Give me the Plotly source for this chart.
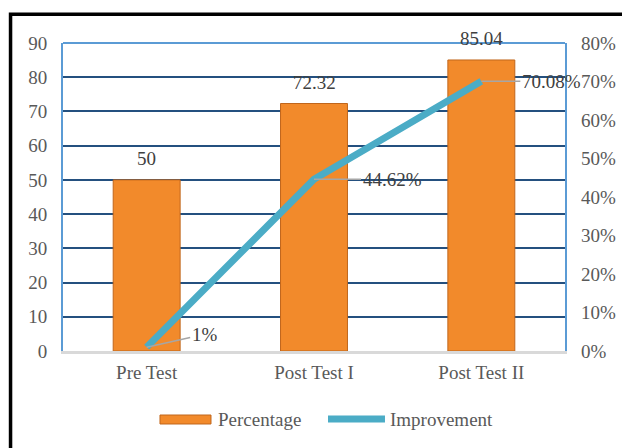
import plotly.graph_objects as go

# Chart data
categories = ["Pre Test", "Post Test I", "Post Test II"]
percentage = [50, 72.32, 85.04]
improvement = [1, 44.62, 70.08]  # percent
bar_labels = ["50", "72.32", "85.04"]
line_labels = ["1%", "44.62%", "70.08%"]
left_ticks = [0, 10, 20, 30, 40, 50, 60, 70, 80, 90]
right_ticks = [0, 10, 20, 30, 40, 50, 60, 70, 80]
right_tick_text = ["0%", "10%", "20%", "30%", "40%", "50%", "60%", "70%", "80%"]

FONT = "Liberation Serif"
FS = 19
ORANGE = "#F28A2B"
ORANGE_EDGE = "#C0661C"
TEAL = "#4BACC6"
GRID = "#24507F"
BORDER = "#5B9BD5"
TICK_GRAY = "#595959"
LABEL_GRAY = "#404040"

fig = go.Figure()

fig.add_trace(go.Bar(
    x=categories, y=percentage, name="Percentage",
    marker=dict(color=ORANGE, line=dict(color=ORANGE_EDGE, width=1)),
    width=0.4, yaxis="y", showlegend=False,
))

fig.add_trace(go.Scatter(
    x=categories, y=improvement, name="Improvement",
    mode="lines", line=dict(color=TEAL, width=7),
    yaxis="y2", showlegend=False,
))

annotations = []
# value labels above the bars
for c, v, t in zip(categories, percentage, bar_labels):
    annotations.append(dict(
        x=c, y=v, xref="x", yref="y", text=t, showarrow=False,
        yanchor="middle", yshift=21,
        font=dict(family=FONT, size=FS, color=LABEL_GRAY),
    ))

# improvement labels with grey leader lines
offsets = [(58, -13), (78, 0), (70, 0)]
for c, v, t, (ax, ay) in zip(categories, improvement, line_labels, offsets):
    annotations.append(dict(
        x=c, y=v, xref="x", yref="y2", text=t, showarrow=True,
        arrowhead=0, arrowwidth=1.5, arrowcolor="#A6A6A6",
        ax=ax, ay=ay, standoff=0,
        font=dict(family=FONT, size=FS, color=LABEL_GRAY),
    ))

# legend entries
annotations.append(dict(
    x=0.3048, y=-0.2208, xref="paper", yref="paper", text="Percentage",
    showarrow=False, xanchor="left", yanchor="middle",
    font=dict(family=FONT, size=FS, color=TICK_GRAY),
))
annotations.append(dict(
    x=0.6474, y=-0.2208, xref="paper", yref="paper", text="Improvement",
    showarrow=False, xanchor="left", yanchor="middle",
    font=dict(family=FONT, size=FS, color=TICK_GRAY),
))

shapes = [
    # outer black frame
    dict(type="rect", xref="paper", yref="paper",
         x0=-0.1045, x1=1.3, y0=-0.5, y1=1.0935,
         line=dict(color="black", width=3.5), fillcolor="rgba(0,0,0,0)",
         layer="below"),
    # plot border top
    dict(type="line", xref="paper", yref="paper", x0=0, x1=1, y0=1, y1=1,
         line=dict(color=BORDER, width=2), layer="above"),
    # legend swatches
    dict(type="rect", xref="paper", yref="paper",
         x0=0.1932, x1=0.2948, y0=-0.237, y1=-0.2078,
         fillcolor=ORANGE, line=dict(color=ORANGE_EDGE, width=1)),
    dict(type="line", xref="paper", yref="paper",
         x0=0.5279, x1=0.6414, y0=-0.2208, y1=-0.2208,
         line=dict(color=TEAL, width=7)),
]

fig.update_layout(
    width=622, height=448,
    margin=dict(l=63, r=57, t=43, b=97, autoexpand=False),
    paper_bgcolor="white", plot_bgcolor="white",
    font=dict(family=FONT, size=FS, color=TICK_GRAY),
    xaxis=dict(
        range=[-0.5, 2.5], autorange=False, automargin=False,
        showgrid=False, showline=True, linecolor="#D9D9D9", linewidth=3,
        ticks="", ticklabelstandoff=2,
        tickfont=dict(family=FONT, size=FS, color=TICK_GRAY),
    ),
    yaxis=dict(
        range=[0, 90], autorange=False, automargin=False,
        tickvals=left_ticks, showgrid=True,
        gridcolor=GRID, gridwidth=2, zeroline=False,
        showline=True, linecolor=BORDER, linewidth=2, mirror=True,
        ticks="", ticklabelstandoff=10,
        tickfont=dict(family=FONT, size=FS, color=TICK_GRAY),
    ),
    yaxis2=dict(
        range=[0, 80], autorange=False, automargin=False,
        tickvals=right_ticks, ticktext=right_tick_text,
        overlaying="y", side="right", showgrid=False, zeroline=False,
        ticks="", ticklabelstandoff=15,
        tickfont=dict(family=FONT, size=FS, color=TICK_GRAY),
    ),
    annotations=annotations,
    shapes=shapes,
)

fig.write_html("out.html")
